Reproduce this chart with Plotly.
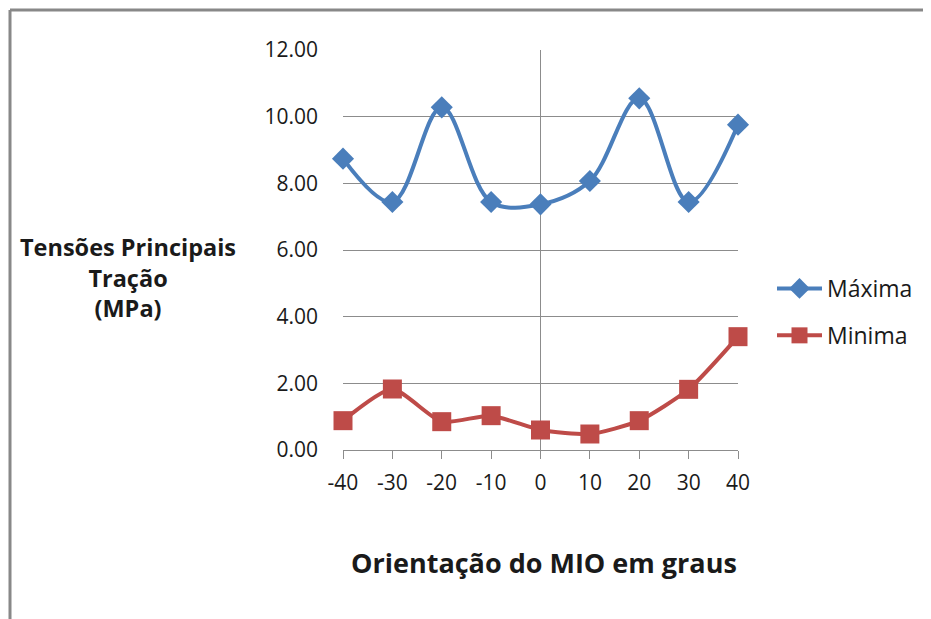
import plotly.graph_objects as go

angles = [-40, -30, -20, -10, 0, 10, 20, 30, 40]
maxima = [8.74, 7.44, 10.28, 7.44, 7.37, 8.07, 10.55, 7.44, 9.76]
minima = [0.88, 1.83, 0.85, 1.03, 0.60, 0.48, 0.88, 1.82, 3.40]
y_ticks = [0, 2, 4, 6, 8, 10, 12]
y_tick_labels = ["0.00", "2.00", "4.00", "6.00", "8.00", "10.00", "12.00"]
x_ticks = angles
x_tick_labels = [str(a) for a in angles]

FONT = "Open Sans"
BLUE = "#4A7EBB"
RED = "#BE4B48"
GRID = "#8C8C8C"
TXT = "#1a1a1a"

fig = go.Figure()
fig.add_trace(go.Scatter(
    x=angles, y=maxima, name="Máxima", mode="lines+markers",
    line=dict(color=BLUE, width=4, shape="spline", smoothing=1.0),
    marker=dict(symbol="diamond", size=17, color=BLUE),
    legendgroup="a", cliponaxis=False,
))
fig.add_trace(go.Scatter(
    x=angles, y=minima, name="Minima", mode="lines+markers",
    line=dict(color=RED, width=4, shape="spline", smoothing=0.6),
    marker=dict(symbol="square", size=19, color=RED),
    legendgroup="b", cliponaxis=False,
))

OFF = 8  # page offset of the figure (body margin)
W, H = 931, 619
# desired page-pixel positions of the plot area
PL, PR, PT, PB = 343, 738, 50, 450
L, R, T, B = PL - OFF, W - (PR - OFF), PT - OFF, H - (PB - OFF)
pw, ph = PR - PL, PB - PT

def px_x(px):
    return (px - PL) / pw

def px_y(py):
    return (PB - py) / ph

fig.update_layout(
    width=W, height=H,
    margin=dict(l=L, r=R, t=T, b=B),
    paper_bgcolor="white", plot_bgcolor="white",
    font=dict(family=FONT, size=21, color=TXT),
    showlegend=True,
    legend=dict(
        x=px_x(772), y=px_y(267), xanchor="left", yanchor="top",
        font=dict(family=FONT, size=23, color=TXT),
        tracegroupgap=14, itemwidth=45, bgcolor="rgba(0,0,0,0)",
    ),
    xaxis=dict(
        range=[-40, 40], tickmode="array", tickvals=x_ticks, ticktext=x_tick_labels,
        showgrid=False, zeroline=True, zerolinecolor=GRID, zerolinewidth=1,
        showline=True, linecolor=GRID, linewidth=1,
        ticks="outside", ticklen=8, tickcolor=GRID, tickwidth=1,
        tickfont=dict(family=FONT, size=21, color=TXT),
        ticklabelstandoff=6,
        fixedrange=True,
    ),
    yaxis=dict(
        range=[0, 12], tickmode="array", tickvals=y_ticks, ticktext=y_tick_labels,
        showgrid=True, gridcolor=GRID, gridwidth=1,
        zeroline=False, showline=False, ticks="",
        ticklabelstandoff=24,
        tickfont=dict(family=FONT, size=21, color=TXT),
        fixedrange=True,
    ),
    annotations=[
        dict(
            text="<b>Tensões Principais<br>Tração<br>(MPa)</b>",
            xref="paper", yref="paper", x=px_x(128), y=px_y(277),
            xanchor="center", yanchor="middle", showarrow=False, align="center",
            font=dict(family=FONT, size=23.5, color=TXT),
        ),
        dict(
            text="<b>Orientação do MIO em graus</b>",
            xref="paper", yref="paper", x=px_x(544), y=px_y(562),
            xanchor="center", yanchor="middle", showarrow=False,
            font=dict(family=FONT, size=27, color=TXT),
        ),
    ],
    shapes=[
        dict(type="line", xref="paper", yref="paper",
             x0=px_x(10), x1=px_x(945), y0=px_y(10), y1=px_y(10),
             line=dict(color="#888888", width=3)),
        dict(type="line", xref="paper", yref="paper",
             x0=px_x(10), x1=px_x(10), y0=px_y(10), y1=px_y(640),
             line=dict(color="#888888", width=3)),
    ],
)

fig.write_html("out.html", config=dict(displayModeBar=False))
